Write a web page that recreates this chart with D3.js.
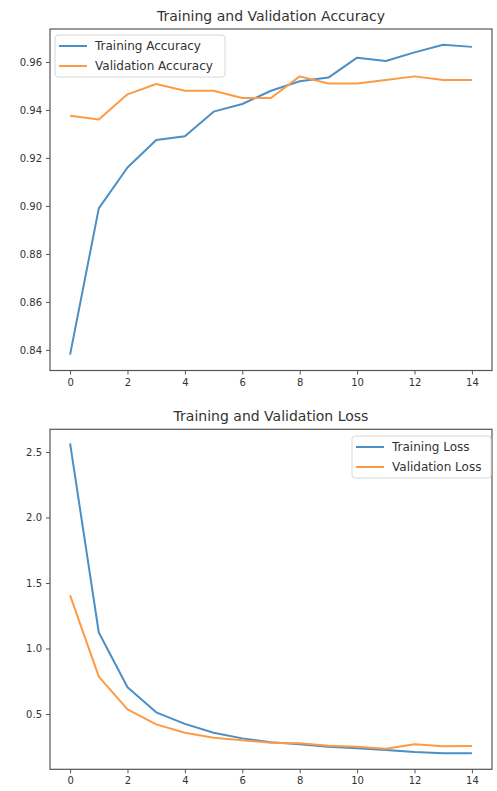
<!DOCTYPE html>
<html>
<head>
<meta charset="utf-8">
<script src="https://cdn.jsdelivr.net/npm/d3@7"></script>
<style>
  html, body { margin: 0; padding: 0; background: #fff; }
  svg { display: block; font-family: "DejaVu Sans", sans-serif; }
</style>
</head>
<body>
<svg id="chart" width="497" height="791"></svg>
<script>
// ---- data ----
const epochs = [0,1,2,3,4,5,6,7,8,9,10,11,12,13,14];
const trainAcc = [0.838,0.899,0.916,0.9275,0.929,0.9393,0.9425,0.948,0.952,0.9535,0.9618,0.9604,0.964,0.9672,0.9663];
const valAcc   = [0.9376,0.936,0.9465,0.9508,0.948,0.948,0.945,0.945,0.954,0.951,0.951,0.9525,0.954,0.9525,0.9525];
const trainLoss = [2.566,1.122,0.704,0.513,0.425,0.357,0.314,0.284,0.269,0.25,0.238,0.225,0.21,0.2,0.2];
const valLoss   = [1.405,0.785,0.536,0.421,0.357,0.319,0.30,0.281,0.276,0.258,0.25,0.235,0.27,0.254,0.256];
const xTicks = [0,2,4,6,8,10,12,14];
const accTicks = [0.84,0.86,0.88,0.90,0.92,0.94,0.96];
const lossTicks = [0.5,1.0,1.5,2.0,2.5];
const titles = ["Training and Validation Accuracy", "Training and Validation Loss"];
const accLabels = ["Training Accuracy", "Validation Accuracy"];
const lossLabels = ["Training Loss", "Validation Loss"];

const BLUE = "#4a8fc6", ORANGE = "#fd9b45", AXIS = "#555", TXT = "#333";
const svg = d3.select("#chart");

function panel(opt) {
  const {left, right, top, bottom, yDomain, yTicks, yFmt, series, labels, title, legend} = opt;
  const x = d3.scaleLinear().domain([-0.7, 14.7]).range([left, right]);
  const y = d3.scaleLinear().domain(yDomain).range([bottom, top]);
  const g = svg.append("g");

  // lines
  const line = d3.line().x((d, i) => x(epochs[i])).y(d => y(d));
  series.forEach((s, k) => {
    g.append("path").datum(s)
      .attr("fill", "none")
      .attr("stroke", k === 0 ? BLUE : ORANGE)
      .attr("stroke-width", 2)
      .attr("stroke-linejoin", "round")
      .attr("d", line);
  });

  // frame
  g.append("rect").attr("x", left).attr("y", top)
    .attr("width", right - left).attr("height", bottom - top)
    .attr("fill", "none").attr("stroke", AXIS).attr("stroke-width", 1.2);

  // axes
  const xa = g.append("g").attr("transform", `translate(0,${bottom})`)
    .call(d3.axisBottom(x).tickValues(xTicks).tickSize(4).tickPadding(4).tickFormat(d3.format("d")));
  const ya = g.append("g").attr("transform", `translate(${left},0)`)
    .call(d3.axisLeft(y).tickValues(yTicks).tickSize(4).tickPadding(4).tickFormat(yFmt));
  [xa, ya].forEach(a => {
    a.select(".domain").remove();
    a.selectAll("line").attr("stroke", AXIS).attr("stroke-width", 1);
    a.selectAll("text").attr("fill", TXT).style("font-size", "10px")
      .style("font-family", "DejaVu Sans, sans-serif");
  });

  // title
  g.append("text").attr("x", (left + right) / 2).attr("y", top - 8)
    .attr("text-anchor", "middle").attr("fill", TXT)
    .style("font-size", "14px").text(title);

  // legend
  const lg = g.append("g").attr("transform", `translate(${legend.x},${legend.y})`);
  lg.append("rect").attr("width", legend.w).attr("height", 42).attr("rx", 3)
    .attr("fill", "#fff").attr("fill-opacity", 0.85)
    .attr("stroke", "#d8d8d8").attr("stroke-width", 1);
  labels.forEach((lab, k) => {
    const yy = 11 + k * 20;
    lg.append("line").attr("x1", 4).attr("x2", 32).attr("y1", yy).attr("y2", yy)
      .attr("stroke", k === 0 ? BLUE : ORANGE).attr("stroke-width", 2);
    lg.append("text").attr("x", 40).attr("y", yy + 4).attr("fill", TXT)
      .style("font-size", "12px").text(lab);
  });
}

panel({
  left: 50, right: 492, top: 29, bottom: 370.5,
  yDomain: [0.8314, 0.97375], yTicks: accTicks, yFmt: d3.format(".2f"),
  series: [trainAcc, valAcc], labels: accLabels, title: titles[0],
  legend: {x: 55, y: 35, w: 170}
});
panel({
  left: 50, right: 492, top: 429.3, bottom: 769.3,
  yDomain: [0.078, 2.673], yTicks: lossTicks, yFmt: d3.format(".1f"),
  series: [trainLoss, valLoss], labels: lossLabels, title: titles[1],
  legend: {x: 352, y: 436, w: 139}
});
</script>
</body>
</html>
